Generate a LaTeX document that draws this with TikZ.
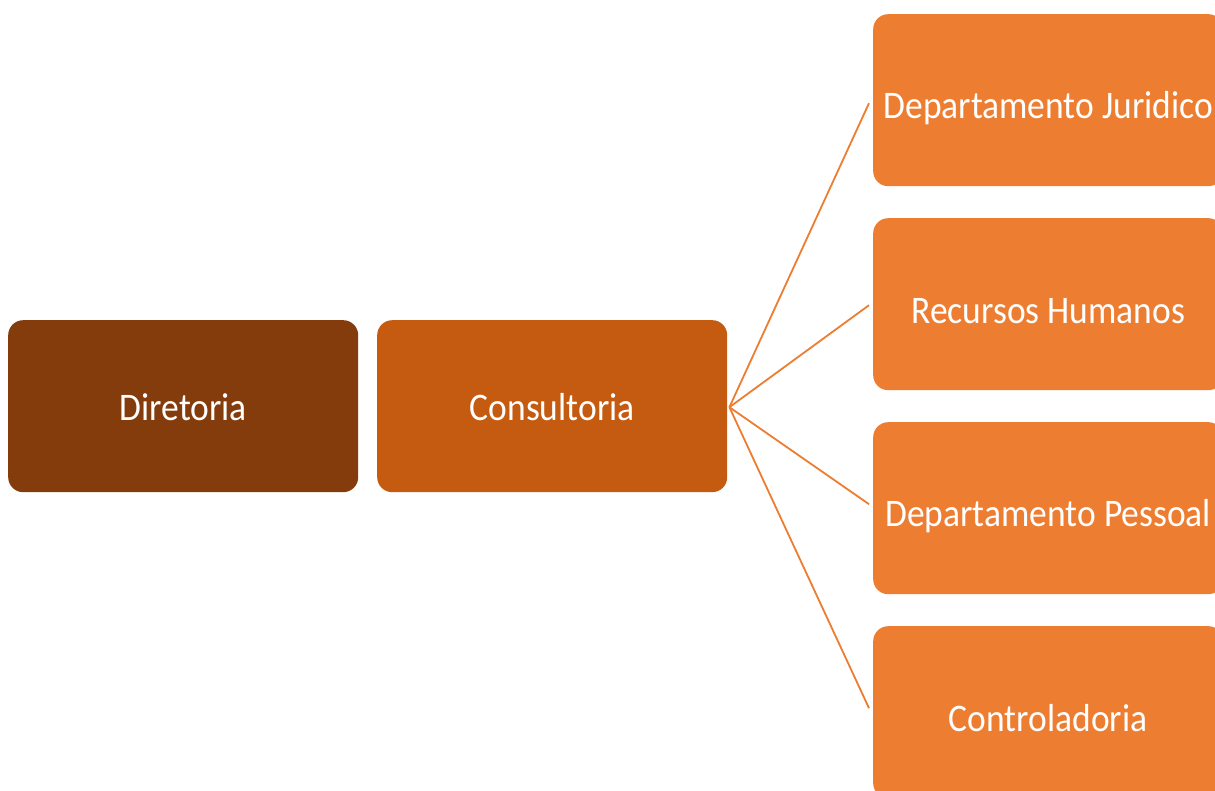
\documentclass[tikz,border=0pt]{standalone}
\usepackage{fontspec}
\setmainfont{Carlito}
\definecolor{cdir}{HTML}{843C0C}
\definecolor{ccons}{HTML}{C55A11}
\definecolor{cdep}{HTML}{ED7D31}
\newcommand{\tallt}[1]{\scalebox{1}[1.1]{#1}}
\tikzset{
  box/.style={rectangle, rounded corners=15pt, minimum width=350pt, minimum height=172pt, inner sep=0pt, anchor=north west},
  lbl/.style={text=white, font=\fontsize{35.5}{40}\selectfont, inner sep=0pt},
  conn/.style={draw=cdep, line width=1.8pt},
}
\begin{document}
\begin{tikzpicture}[x=1pt,y=1pt]
\useasboundingbox (0,0) rectangle (1215,791);
\clip (0,0) rectangle (1215,791);
\fill[white] (0,0) rectangle (1215,791);
% left boxes
\node[box, fill=cdir] (dir) at (8,471) {};
\node[box, fill=ccons] (cons) at (377,471) {};
\node[lbl] (tdir) at ([yshift=-1pt]dir.center) {\tallt{Diretoria}};
\node[lbl] (tcons) at ([yshift=-1pt]cons.center) {\tallt{Consultoria}};
% right boxes
\node[box, fill=cdep] (jur) at (873,777) {};
\node[box, fill=cdep] (rh) at (873,573) {};
\node[box, fill=cdep] (dp) at (873,369) {};
\node[box, fill=cdep] (ctrl) at (873,165) {};
\node[lbl] (tjur) at ([yshift=-8pt]jur.center) {\tallt{Departamento Juridico}};
\node[lbl] (trh) at ([yshift=-7pt]rh.center) {\tallt{Recursos Humanos}};
\node[lbl] (tdp) at ([yshift=-8pt]dp.center) {\tallt{Departamento Pessoal}};
\node[lbl] (tctrl) at ([yshift=-6pt]ctrl.center) {\tallt{Controladoria}};
% connectors
\coordinate (hub) at ([xshift=2pt,yshift=-1pt]cons.east);
\draw[conn] (hub) -- ([xshift=-4pt,yshift=-3pt]jur.west);
\draw[conn] (hub) -- ([xshift=-4pt,yshift=-1pt]rh.west);
\draw[conn] (hub) -- ([xshift=-4pt,yshift=4pt]dp.west);
\draw[conn] (hub) -- ([xshift=-4pt,yshift=4pt]ctrl.west);
\end{tikzpicture}
\end{document}
